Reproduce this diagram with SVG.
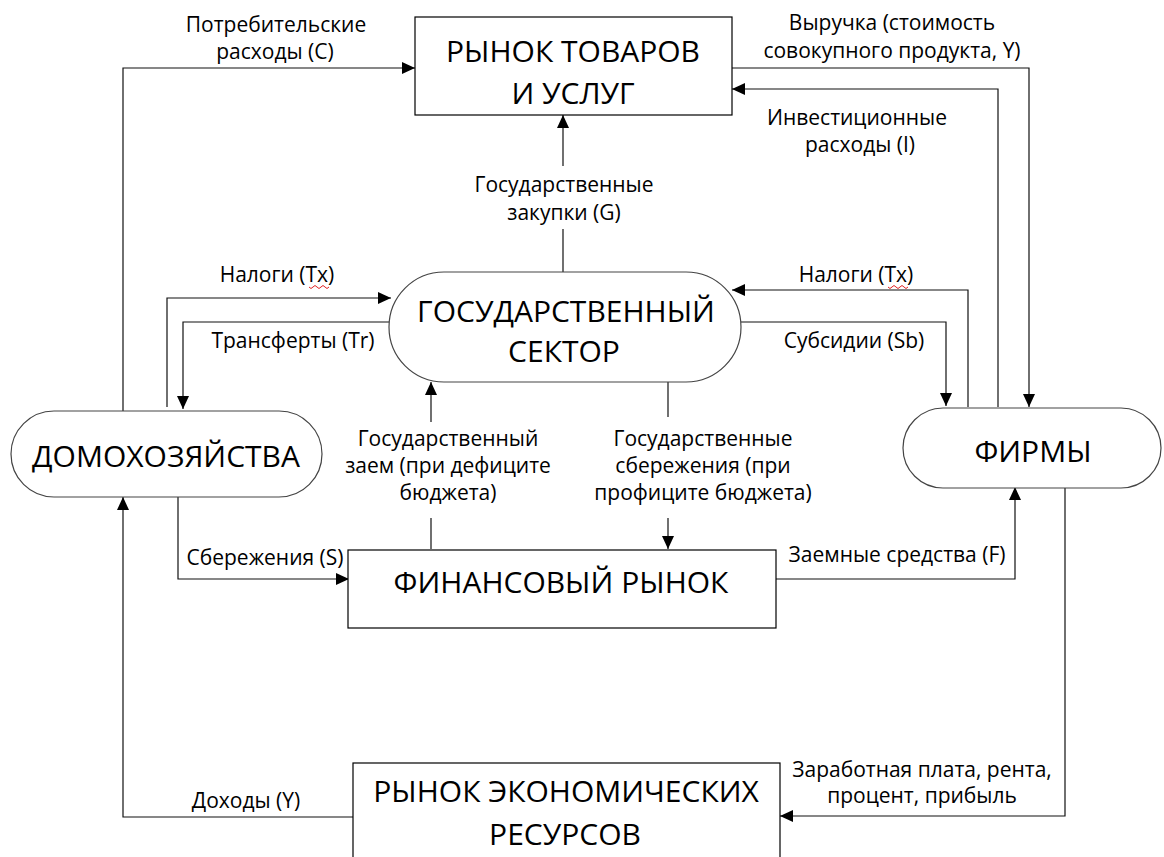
<svg xmlns="http://www.w3.org/2000/svg" width="1164" height="857" viewBox="0 0 1164 857">
<style>
text{font-family:"Open Sans","Noto Sans","Liberation Sans",sans-serif;fill:#000;text-anchor:middle}
.lbl{font-size:21px}
.ttl{font-size:30px}
.box{fill:#fff;stroke:#000;stroke-width:1.2}
.oval{fill:#fff;stroke:#444;stroke-width:1.2}
.c{fill:none;stroke:#111;stroke-width:1.2}
.wave{fill:none;stroke:#e02020;stroke-width:1}
</style>
<defs>
<marker id="ah" markerUnits="userSpaceOnUse" markerWidth="14" markerHeight="12" refX="13" refY="6" orient="auto">
<path d="M0,0 L13,6 L0,12 Z" fill="#000"/>
</marker>
</defs>
<g id="connectors">
<path class="c" d="M123,411 V68 H415" marker-end="url(#ah)"/>
<path class="c" d="M732,68 H1029 V407" marker-end="url(#ah)"/>
<path class="c" d="M998,407 V89 H732" marker-end="url(#ah)"/>
<path class="c" d="M968,407 V290 H732" marker-end="url(#ah)"/>
<path class="c" d="M741,322 H946 V406" marker-end="url(#ah)"/>
<path class="c" d="M167,407 V298 H391" marker-end="url(#ah)"/>
<path class="c" d="M390,322 H183 V409" marker-end="url(#ah)"/>
<path class="c" d="M563,272 V229"/>
<path class="c" d="M563,166 V115" marker-end="url(#ah)"/>
<path class="c" d="M431,422 V382" marker-end="url(#ah)"/>
<path class="c" d="M431,518 V549"/>
<path class="c" d="M668,382 V417"/>
<path class="c" d="M668,518 V549" marker-end="url(#ah)"/>
<path class="c" d="M178,497 V579 H349" marker-end="url(#ah)"/>
<path class="c" d="M776,579 H1015 V487" marker-end="url(#ah)"/>
<path class="c" d="M1065,487 V816 H780" marker-end="url(#ah)"/>
<path class="c" d="M353,817 H123 V497" marker-end="url(#ah)"/>
</g>
<g id="goods-market">
<rect class="box" x="415" y="17" width="317" height="98"/>
<text class="ttl" x="573" y="62">РЫНОК ТОВАРОВ</text>
<text class="ttl" x="573" y="104">И УСЛУГ</text>
</g>
<g id="government">
<rect class="oval" x="389" y="272" width="352" height="110" rx="55" ry="55"/>
<text class="ttl" x="566" y="322">ГОСУДАРСТВЕННЫЙ</text>
<text class="ttl" x="564" y="362">СЕКТОР</text>
</g>
<g id="households">
<rect class="oval" x="11" y="411" width="311" height="86" rx="43" ry="43"/>
<text class="ttl" x="166" y="467">ДОМОХОЗЯЙСТВА</text>
</g>
<g id="firms">
<rect class="oval" x="903" y="408" width="258" height="80" rx="40" ry="40"/>
<text class="ttl" x="1033" y="462">ФИРМЫ</text>
</g>
<g id="financial-market">
<rect class="box" x="348" y="550" width="428" height="78"/>
<text class="ttl" x="561" y="593">ФИНАНСОВЫЙ РЫНОК</text>
</g>
<g id="resource-market">
<rect class="box" x="353" y="763" width="427" height="110"/>
<text class="ttl" x="566" y="802">РЫНОК ЭКОНОМИЧЕСКИХ</text>
<text class="ttl" x="565" y="845">РЕСУРСОВ</text>
</g>
<g id="labels">
<text class="lbl" x="276" y="32">Потребительские</text>
<text class="lbl" x="275" y="59">расходы (С)</text>
<text class="lbl" x="892" y="30">Выручка (стоимость</text>
<text class="lbl" x="892" y="58">совокупного продукта, Y)</text>
<text class="lbl" x="857" y="125">Инвестиционные</text>
<text class="lbl" x="860" y="152">расходы (I)</text>
<text class="lbl" x="564" y="192">Государственные</text>
<text class="lbl" x="564" y="220">закупки (G)</text>
<text class="lbl" x="277" y="282">Налоги (Tx)</text>
<text class="lbl" x="856" y="282">Налоги (Tx)</text>
<text class="lbl" x="293" y="348">Трансферты (Tr)</text>
<text class="lbl" x="854" y="348">Субсидии (Sb)</text>
<text class="lbl" x="448" y="446">Государственный</text>
<text class="lbl" x="448" y="473">заем (при дефиците</text>
<text class="lbl" x="448" y="500">бюджета)</text>
<text class="lbl" x="703" y="446">Государственные</text>
<text class="lbl" x="703" y="473">сбережения (при</text>
<text class="lbl" x="703" y="500">профиците бюджета)</text>
<text class="lbl" x="265" y="565">Сбережения (S)</text>
<text class="lbl" x="897" y="562">Заемные средства (F)</text>
<text class="lbl" x="246" y="808">Доходы (Y)</text>
<text class="lbl" x="922" y="777">Заработная плата, рента,</text>
<text class="lbl" x="922" y="803">процент, прибыль</text>
<path class="wave" d="M309,287 q2,3 4,0 t4,0 t4,0 t4,0 t4,0"/>
<path class="wave" d="M888,287 q2,3 4,0 t4,0 t4,0 t4,0 t4,0"/>
</g>
</svg>
